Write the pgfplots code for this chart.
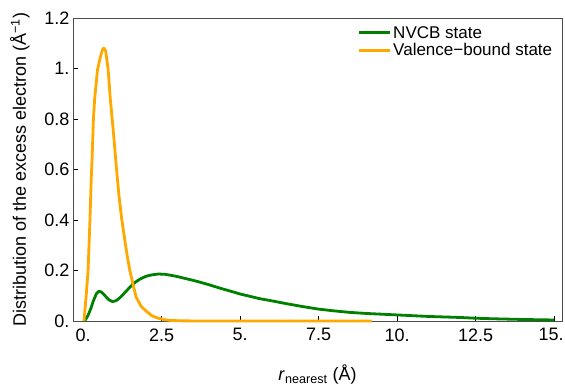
\documentclass[border=0pt]{standalone}
\usepackage{fontspec}
\setmainfont{Liberation Sans}
\usepackage{pgfplots}
\pgfplotsset{compat=1.18}

\definecolor{nvcbgreen}{RGB}{0,128,0}
\definecolor{vbOrange}{RGB}{255,168,0}

\begin{document}
\begin{tikzpicture}[font=\fontsize{18}{21}\selectfont]
\begin{axis}[
  name=ax,
  width=489pt, height=303pt, scale only axis,
  xmin=-0.32, xmax=15.25,
  ymin=0, ymax=1.2,
  clip=false,
  axis line style={black!70, line width=0.8pt},
  tick align=inside,
  xtick pos=lower, ytick pos=left,
  major tick length=5pt,
  tick style={black, line width=0.7pt},
  xtick={0,2.5,5,7.5,10,12.5,15},
  xticklabels={0.,2.5,5.,7.5,10.,12.5,\hspace*{-6pt}15.},
  ytick={0,0.2,0.4,0.6,0.8,1.0,1.2},
  yticklabels={0.,0.2,0.4,0.6,0.8,1.,1.2},
  xticklabel style={yshift=-4pt},
  xlabel={\textit{r}\textsubscript{nearest} (Å)},
  ylabel={Distribution of the excess electron (Å\textsuperscript{−1})},
  xlabel style={at={(axis description cs:0.5,0)}, anchor=base, yshift=-60pt},
  ylabel style={at={(axis description cs:0,0.5)}, anchor=base, yshift=47pt},
  legend cell align=left,
  legend style={draw=none, fill=none, at={(axis cs:8.73,1.2)}, anchor=north west,
    yshift=-6pt, inner sep=0pt, row sep=0pt, nodes={inner sep=2pt},
    font=\fontsize{17}{20}\selectfont},
  legend image code/.code={\draw[#1] (0pt,0pt) -- (31pt,0pt);},
]
% NVCB state
\addplot[nvcbgreen, line width=2.8pt, line join=round] table {
x y
0.05 0.000
0.15 0.020
0.25 0.050
0.33 0.080
0.42 0.107
0.50 0.118
0.58 0.115
0.70 0.100
0.82 0.084
0.93 0.077
1.05 0.080
1.20 0.095
1.35 0.115
1.50 0.135
1.60 0.148
1.80 0.165
2.00 0.177
2.20 0.183
2.40 0.186
2.60 0.185
2.80 0.181
3.00 0.176
3.30 0.167
3.60 0.158
4.00 0.144
4.36 0.130
4.70 0.118
5.00 0.107
5.64 0.088
5.96 0.081
6.50 0.068
7.00 0.057
7.50 0.047
8.00 0.040
8.50 0.034
9.00 0.030
10.0 0.024
11.0 0.018
12.0 0.014
12.5 0.011
13.0 0.009
14.0 0.006
15.0 0.004
};
\addlegendentry{NVCB state}
% valence-bound state
\addplot[vbOrange, line width=2.8pt, line join=round] table {
x y
0.03 0.000
0.10 0.100
0.16 0.200
0.22 0.400
0.26 0.560
0.29 0.650
0.33 0.800
0.37 0.880
0.46 0.995
0.55 1.045
0.62 1.075
0.66 1.081
0.72 1.070
0.80 0.995
0.87 0.876
0.96 0.757
1.06 0.610
1.14 0.500
1.23 0.405
1.33 0.320
1.41 0.255
1.49 0.200
1.59 0.145
1.69 0.095
1.85 0.058
2.03 0.037
2.20 0.020
2.40 0.011
2.60 0.005
2.80 0.002
3.20 0.0005
4.00 0.000
9.19 0.000
};
\addlegendentry{Valence−bound state}
\end{axis}
\pgfresetboundingbox
\path ([shift={(-73pt,-66pt)}]ax.south west) rectangle ([shift={(3pt,18pt)}]ax.north east);
\end{tikzpicture}
\end{document}
